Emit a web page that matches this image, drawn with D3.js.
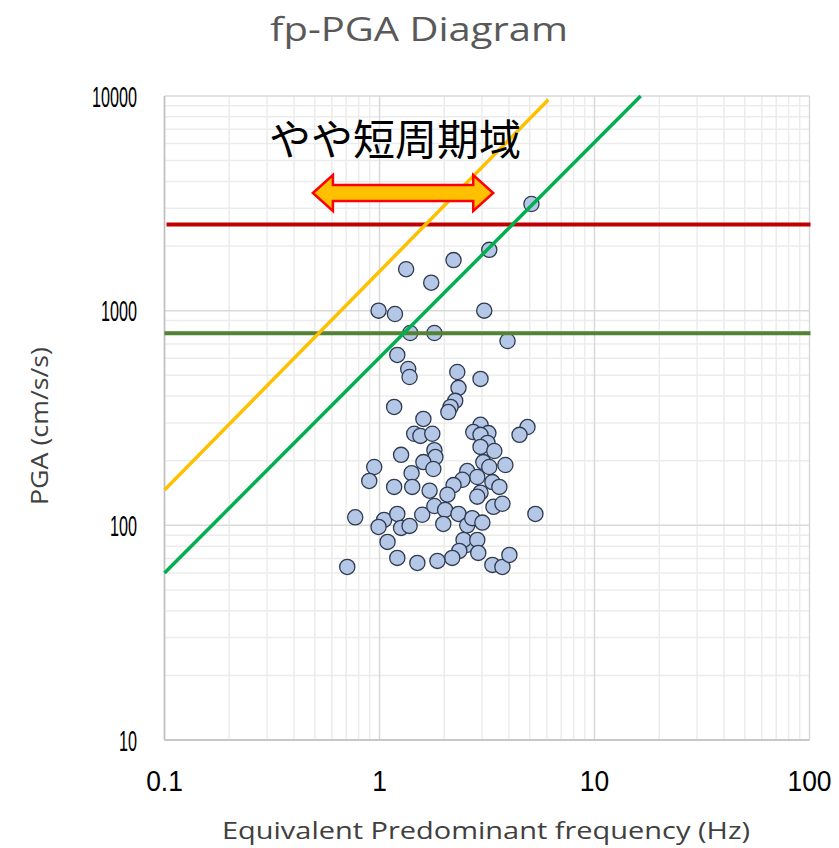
<!DOCTYPE html>
<html><head><meta charset="utf-8">
<script src="https://cdn.jsdelivr.net/npm/d3@7"></script>
<style>html,body{margin:0;padding:0;background:#fff;}</style>
</head><body>
<svg id="chart" width="839" height="848"></svg>
<script>
// ---- data ----
const freqHz = [5.09,3.24,2.21,1.33,1.74,0.99,1.18,3.07,1.39,1.80,3.94,1.21,1.36,1.38,2.30,2.95,2.33,2.25,2.14,2.09,
 1.17,1.60,2.95,4.88,4.48,1.45,1.55,1.76,2.73,3.21,2.95,3.18,2.95,3.42,1.80,1.82,1.26,3.04,3.24,3.85,
 1.60,0.945,1.41,1.78,2.56,2.85,2.43,2.21,3.35,3.61,0.896,1.17,1.42,1.71,2.07,2.95,2.85,0.771,1.05,0.99,
 1.21,1.26,1.38,1.09,1.58,1.21,1.50,0.708,1.80,2.02,2.33,1.98,2.56,2.70,3.01,3.39,3.73,5.31,2.54,2.46,
 2.85,2.88,2.35,2.18,1.86,3.35,3.73,4.02];
const pga = [3140,1920,1720,1560,1350,1000,965,1000,787,787,722,622,535,491,518,481,437,380,356,337,
 356,313,294,287,264,267,261,267,272,269,264,242,232,222,224,208,213,197,187,191,
 197,187,175,183,179,168,163,154,159,151,161,151,151,145,139,142,136,109,106,98.3,
 113,97.3,99.4,83.7,112,70.5,66.8,64.0,123,118,113,101.5,100,108,103,122,126,113,81.0,85.5,
 85.5,74.4,76.0,70.5,68.3,65.4,64.0,72.8];
const xTicks = [0.1, 1, 10, 100];
const yTicks = [10, 100, 1000, 10000];
const xTickLabels = ["0.1", "1", "10", "100"];
const yTickLabels = ["10", "100", "1000", "10000"];
const redLevel = 2520;        // horizontal red line (PGA)
const greenLevel = 785;       // horizontal dark green line (PGA)
const orangeLine = [[0.1, 146], [6.1, 9600]];
const greenLine = [[0.1, 60], [16.4, 10000]];
const arrowRange = [0.49, 3.38]; // Hz
const titleText = "fp-PGA Diagram";
const xTitle = "Equivalent Predominant frequency (Hz)";
const yTitle = "PGA (cm/s/s)";
const annotation = "やや短周期域";

// ---- layout ----
const L = 164.5, R = 809.5, T = 96, B = 740;
const svg = d3.select("#chart");
const x = d3.scaleLog().domain([0.1, 100]).range([L, R]);
const y = d3.scaleLog().domain([10, 10000]).range([B, T]);

// grid
const minorX = [], minorY = [];
for (let e = -1; e < 2; e++) for (let k = 2; k <= 9; k++) minorX.push(k * Math.pow(10, e));
for (let e = 1; e < 4; e++) for (let k = 2; k <= 9; k++) minorY.push(k * Math.pow(10, e));
const g = svg.append("g");
g.selectAll(".mx").data(minorX).join("line")
  .attr("x1", d => x(d)).attr("x2", d => x(d)).attr("y1", T).attr("y2", B)
  .attr("stroke", "#ececec").attr("stroke-width", 1.5);
g.selectAll(".my").data(minorY).join("line")
  .attr("y1", d => y(d)).attr("y2", d => y(d)).attr("x1", L).attr("x2", R)
  .attr("stroke", "#ececec").attr("stroke-width", 1.5);
g.selectAll(".Mx").data(xTicks).join("line")
  .attr("x1", d => x(d)).attr("x2", d => x(d)).attr("y1", T).attr("y2", B)
  .attr("stroke", "#d9d9d9").attr("stroke-width", 1.5);
g.selectAll(".My").data(yTicks).join("line")
  .attr("y1", d => y(d)).attr("y2", d => y(d)).attr("x1", L).attr("x2", R)
  .attr("stroke", "#d9d9d9").attr("stroke-width", 1.5);
// axis lines
g.append("line").attr("x1", L).attr("x2", L).attr("y1", T).attr("y2", B).attr("stroke", "#bfbfbf").attr("stroke-width", 1.5);
g.append("line").attr("x1", L).attr("x2", R).attr("y1", B).attr("y2", B).attr("stroke", "#bfbfbf").attr("stroke-width", 1.5);

// points
svg.append("g").selectAll("circle").data(freqHz.map((f, i) => [f, pga[i]])).join("circle")
  .attr("cx", d => x(d[0])).attr("cy", d => y(d[1])).attr("r", 7.6)
  .attr("fill", "#b4c7e7").attr("stroke", "#2f3a4f").attr("stroke-width", 1.3);

// horizontal lines
svg.append("line").attr("x1", L + 2).attr("x2", R + 1).attr("y1", y(redLevel)).attr("y2", y(redLevel))
  .attr("stroke", "#c00000").attr("stroke-width", 4);
svg.append("line").attr("x1", L).attr("x2", R + 1).attr("y1", y(greenLevel)).attr("y2", y(greenLevel))
  .attr("stroke", "#548235").attr("stroke-width", 4);
// diagonal lines
const lineGen = d3.line().x(d => x(d[0])).y(d => y(d[1]));
svg.append("path").attr("d", lineGen(orangeLine)).attr("fill", "none").attr("stroke", "#ffc000").attr("stroke-width", 3.5);
svg.append("path").attr("d", lineGen(greenLine)).attr("fill", "none").attr("stroke", "#00b050").attr("stroke-width", 3.5);

// axis labels (narrow, tall digits)
const tickFont = "'Liberation Sans',Arial,sans-serif";
svg.append("g").selectAll("text").data(xTicks).join("text")
  .attr("transform", d => `translate(${x(d)},791) scale(0.88,1)`).attr("text-anchor", "middle")
  .attr("font-family", tickFont).attr("font-size", 30).attr("fill", "#000")
  .text((d, i) => xTickLabels[i]);
svg.append("g").selectAll("text").data(yTicks).join("text")
  .attr("transform", d => `translate(137,${y(d) + 10.5}) scale(0.54,1)`).attr("text-anchor", "end")
  .attr("font-family", tickFont).attr("font-size", 30).attr("fill", "#000")
  .text((d, i) => yTickLabels[i]);

// titles
svg.append("text").attr("x", 419).attr("y", 41).attr("text-anchor", "middle")
  .attr("font-family", "'Open Sans',sans-serif").attr("font-size", 33).attr("fill", "#595959")
  .attr("textLength", 298).attr("lengthAdjust", "spacingAndGlyphs")
  .text(titleText);
svg.append("text").attr("x", 486).attr("y", 839).attr("text-anchor", "middle")
  .attr("font-family", "'Open Sans',sans-serif").attr("font-size", 24).attr("fill", "#404040")
  .attr("textLength", 528).attr("lengthAdjust", "spacingAndGlyphs")
  .text(xTitle);
svg.append("text").attr("transform", "translate(48,426) rotate(-90)").attr("text-anchor", "middle")
  .attr("font-family", "'Open Sans',sans-serif").attr("font-size", 24).attr("fill", "#404040")
  .attr("textLength", 158).attr("lengthAdjust", "spacingAndGlyphs")
  .text(yTitle);

// annotation arrow
const ax1 = x(arrowRange[0]), ax2 = x(arrowRange[1]), ay = 193;
const hl = 20, sh = 8, hh = 18;
const arrowPts = [
  [ax1, ay], [ax1 + hl, ay - hh], [ax1 + hl, ay - sh], [ax2 - hl, ay - sh], [ax2 - hl, ay - hh],
  [ax2, ay], [ax2 - hl, ay + hh], [ax2 - hl, ay + sh], [ax1 + hl, ay + sh], [ax1 + hl, ay + hh]
];
svg.append("polygon").attr("points", arrowPts.map(p => p.join(",")).join(" "))
  .attr("fill", "#ffc000").attr("stroke", "#ff0000").attr("stroke-width", 2.5).attr("stroke-linejoin", "miter");
svg.append("text").attr("x", 269).attr("y", 155)
  .attr("font-family", "'Noto Sans CJK JP',sans-serif").attr("font-size", 42).attr("fill", "#000")
  .text(annotation);
</script>
</body></html>
